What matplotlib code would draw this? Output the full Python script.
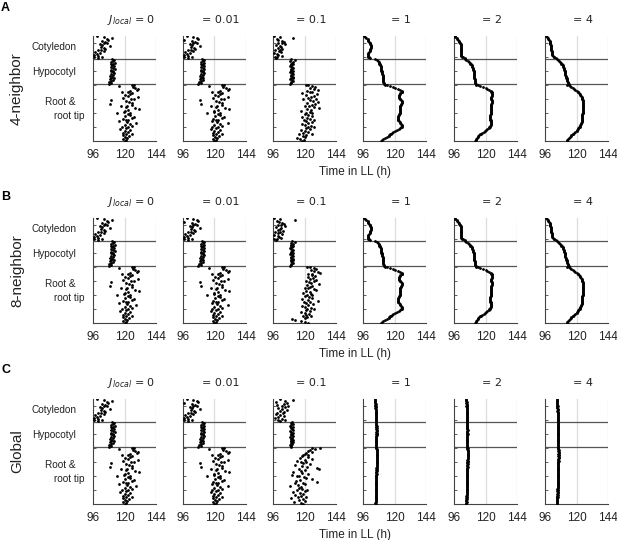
import numpy as np
import matplotlib
matplotlib.use("Agg")
import matplotlib.pyplot as plt

# peak time (h in LL) per cell, listed from top (cotyledon) to bottom (root tip)
# J_local = 0 and 0.01 look the same in all three rows
j0_cot = [99, 104, 110.5, 106.5, 107.5, 102.5, 105, 107, 104, 101.5, 103, 109, 102,
          104.5, 105.5, 100, 102, 104, 97.5, 101.5, 99, 96.5, 100, 102.5, 97, 99.5]
j0_hyp = [110.5, 112, 111, 109.5, 112.5, 110, 111.5, 110.5, 112, 109.5, 111, 112.5, 110,
          111.5, 109.5, 111, 112, 110, 111.5, 109, 110.5, 112, 110, 109, 111, 109.5, 108.5, 110, 108]
j0_root = [127, 125.5, 116, 126.5, 128, 130.5, 129.5, 124, 118, 122.5,
           126, 124.5, 120.5, 123, 130, 119, 125, 127.5, 110, 121,
           123.5, 126, 109, 125.5, 122, 117, 121.5, 128, 131, 123,
           120, 119.5, 124.5, 114, 122.5, 124, 120.5, 127, 125.5, 118.5,
           123, 121, 116, 122, 129, 124, 120, 125.5, 118, 123,
           121.5, 116.5, 124.5, 120, 122.5, 119, 126, 121, 118.5, 123.5,
           120.5, 122, 119, 121, 120]

j001_cot = [99, 104, 106.5, 107.5, 96.5, 102.5, 105, 107, 104, 101.5, 103, 109, 102,
            104.5, 105.5, 100, 102, 104, 97.5, 101.5, 99, 96.5, 100, 102.5, 97, 99.5]
j001_hyp = [110.5, 112, 111, 109.5, 112, 110, 111.5, 110.5, 112, 109.5, 111, 112, 110,
            111.5, 109.5, 111, 112, 110, 111.5, 109, 110.5, 111.5, 110, 109, 111, 109.5, 108.5, 110, 107.5]
j001_root = [127, 126, 116, 126.5, 129, 131, 130, 124, 118, 122.5,
             126, 124.5, 120.5, 123, 130, 119, 125, 127.5, 109, 121,
             123.5, 126, 109.5, 125.5, 122, 117, 121.5, 128, 131, 123,
             120, 119.5, 124.5, 114, 122.5, 124, 120.5, 127, 125.5, 118.5,
             123, 121, 118, 122, 130.5, 124, 120, 125.5, 118, 123,
             121.5, 117, 124.5, 120, 122.5, 119, 126, 121, 118.5, 123.5,
             120.5, 122, 119, 121, 119.5]

# J_local = 0.1, one per row
a_j01_cot = [97, 101.5, 111.5, 99, 100, 102.5, 104, 103, 100, 105, 98, 101.5, 102,
             99.5, 103, 101.5, 97.5, 100.5, 102, 96.5, 99, 100, 102.5, 97.5, 99, 98]
a_j01_hyp = [110, 112.5, 109, 111, 110.5, 109.5, 111.5, 110, 109, 110.5, 111.5, 110, 109.5,
             111, 110, 109, 110.5, 111.5, 110, 109.5, 111, 110, 111.5, 109, 110.5, 111, 109.5, 110, 109]
a_j01_root = [121, 123, 125.5, 128, 124, 127, 130.5, 122, 124.5, 126,
              118, 129.5, 121, 127, 125, 123, 128.5, 119, 124.5, 126.5,
              130.5, 122, 128, 125.5, 120.5, 123.5, 127.5, 131, 122, 125,
              117, 124.5, 121, 126, 120.5, 123, 125.5, 118, 122, 124,
              127, 119.5, 121.5, 126, 123, 118, 120, 125, 122.5, 127.5,
              121, 124, 117.5, 120, 122.5, 119, 125.5, 116, 121, 118.5,
              120.5, 114, 116.5, 119.5, 118]

b_j01_cot = [97, 101, 113, 99, 100.5, 103, 104.5, 102, 100, 105, 98.5, 102, 101,
             99.5, 103.5, 101.5, 97.5, 100, 102.5, 96.5, 99.5, 100.5, 102, 97, 99, 98.5]
b_j01_hyp = [110.5, 113, 109.5, 111, 110, 109.5, 111.5, 110.5, 109, 110, 111, 110.5, 109.5,
             111, 110, 109, 110.5, 111.5, 110, 109.5, 111, 110, 111.5, 109.5, 110.5, 111, 109.5, 110, 109]
b_j01_root = [122, 124, 127, 129, 125, 127.5, 130, 131.5, 123, 126,
              125.5, 128, 122.5, 126.5, 124, 129, 121, 127, 123.5, 125,
              131, 122, 126, 124.5, 120, 123, 127, 128.5, 121.5, 124.5,
              119, 125, 122, 126, 120.5, 123.5, 125.5, 118, 122.5, 130,
              124, 119.5, 121.5, 126.5, 123, 118, 120.5, 125, 122, 127.5,
              121, 124, 117.5, 120, 123.5, 121, 125, 119, 122, 120.5,
              110.5, 113, 117.5, 120.5, 122.5]

c_j01_cot = [101.5, 111.5, 105, 98, 106.5, 104, 99, 107.5, 102.5, 105, 100, 103, 106.5,
             101.5, 104, 99, 103.5, 98.5, 101, 104.5, 100, 97.5, 102.5, 105, 99.5, 101]
c_j01_hyp = [110.5, 109.5, 111, 110, 109, 111.5, 110, 109.5, 110.5, 111, 109, 110, 111.5,
             110.5, 109.5, 110, 111, 109, 110.5, 110, 111.5, 109.5, 110, 111, 109.5, 110.5, 109, 110, 109.5]
c_j01_root = [132, 125.5, 128, 124.5, 123, 126, 121.5, 120.5, 119, 122.5,
              118, 123, 116.5, 125.5, 120, 114, 121.5, 117.5, 119, 124,
              113, 118, 122, 129.5, 131, 115.5, 120.5, 117, 111.5, 118,
              123, 110.5, 116, 114, 119.5, 121, 125.5, 116.5, 113.5, 129.5,
              112.5, 118.5, 120.5, 115, 109, 117, 115.5, 118, 122, 114,
              120.5, 111.5, 116.5, 119, 113, 117.5, 115, 121, 110, 118.5,
              116, 120, 112, 117, 119]

# J_local = 1, 2, 4 for the 4- and 8-neighbor models (nearly identical)
ab_j1_cot = [97, 97.5, 98.5, 99.5, 100, 100, 100.5, 101, 101.5, 101.5, 102, 102, 102,
             102, 101.5, 101.5, 101.5, 101, 100.5, 100, 100, 100, 100, 100, 100.5, 101]
ab_j1_hyp = [105.5, 106.5, 107.5, 108, 108.5, 108.5, 109, 109, 109.5, 109.5, 110, 110, 110,
             110, 110.5, 110.5, 110.5, 110.5, 111, 111, 111, 111, 111, 111.5, 111.5, 111.5, 111.5, 112, 112]
ab_j1_root = [113, 114.5, 116.5, 118.5, 120.5, 122.5, 124, 125.5,
              126, 125.5, 124.5, 124, 123.5, 123.5,
              123.5, 123.5, 124, 124.5, 125, 125.5, 125.5, 125.5, 125,
              125, 124.5, 124.5, 124.5, 124.5, 124, 124, 124, 124.5, 124.5, 124,
              123.5, 123.5, 123, 123, 122.5, 122.5, 123, 123, 123.5, 124, 124.5, 125,
              125.5, 125.5, 125.5, 125, 124.5, 123.5, 122, 120.5,
              119, 118, 117, 116.5, 116, 115.5, 114.5, 113, 111.5, 110.5, 110]

ab_j2_cot = [96.5, 97, 98, 98.5, 99, 99.5, 100, 100.5, 100.5, 101, 101, 101, 101,
             101, 101, 101, 101, 101, 101, 101, 101, 101, 101.5, 102, 103, 104]
ab_j2_hyp = [104.5, 105.5, 106.5, 107.5, 108, 108.5, 109, 109.5, 110, 110, 110.5, 110.5, 110.5,
             111, 111, 111, 111, 111, 111, 111.5, 111.5, 111.5, 111.5, 112, 112, 112, 112, 112, 112.5]
ab_j2_root = [112.5, 114, 116, 118, 120, 121.5, 123, 124, 124.5,
              125, 125, 125, 125, 125, 124.5, 124.5, 124.5, 124.5, 125, 125, 125,
              125, 124.5, 124.5, 124.5, 124.5, 124.5, 124, 124, 124, 124, 124, 124, 124, 124, 123.5,
              123.5, 123.5, 123.5, 123.5, 123.5, 124, 124, 124, 124, 124, 124, 123.5, 123.5, 123, 122.5, 121.5,
              120.5, 119.5, 118.5, 117.5, 116.5, 115.5, 115, 114.5, 114, 113.5, 113, 112.5, 112]

ab_j4_cot = [97, 97.5, 98, 98.5, 99, 99.5, 99.5, 100, 100, 100, 100.5, 100.5, 100.5,
             100.5, 100.5, 100.5, 100.5, 101, 101, 101, 101, 101.5, 102, 102.5, 103, 104]
ab_j4_hyp = [105, 106, 107, 107.5, 108, 108.5, 109, 109.5, 110, 110, 110.5, 110.5, 110.5,
             111, 111, 111, 111.5, 111.5, 111.5, 112, 112, 112, 112.5, 112.5, 113, 113, 113.5, 113.5, 114]
ab_j4_root = [113, 114, 115, 116, 117, 118, 119, 120, 121, 121.5, 122, 122.5, 123,
              123.5, 124, 124, 124.5, 124.5, 125, 125, 125, 125, 125, 125, 125, 125, 125, 125, 125, 125, 125,
              125, 125, 125, 124.5, 124.5, 124.5, 124.5, 124.5, 124.5, 124, 124, 124, 124, 123.5,
              123.5, 123, 123, 122.5, 122, 121.5, 121, 120.5, 120, 119,
              118, 117.5, 117, 116, 115.5, 115, 114, 113.5, 113, 112.5]

# J_local = 1, 2, 4 for the global model: all cells synchronised
c_j1_cot = [105.2, 105.4, 105.3, 105.5, 105.4, 105.6, 105.5, 105.4, 105.6, 105.7, 105.5, 105.6, 105.8,
            105.7, 105.6, 105.8, 105.9, 105.7, 105.8, 106.0, 105.9, 105.8, 106.0, 106.1, 105.9, 106.0]
c_j1_hyp = [106.1, 106.0, 106.2, 106.1, 106.3, 106.2, 106.1, 106.3, 106.2, 106.4, 106.3, 106.2, 106.3,
            106.4, 106.2, 106.3, 106.1, 106.2, 106.0, 106.1, 106.2, 106.0, 106.1, 105.9, 106.0, 106.1,
            105.9, 106.0, 106.1]
c_j1_root = [106.0, 106.2, 106.3, 106.4, 106.3, 106.5, 106.4, 106.6, 106.5, 106.4,
             106.6, 106.5, 106.7, 106.6, 106.5, 106.4, 106.6, 106.5, 106.3, 106.4,
             106.5, 106.3, 106.4, 106.2, 106.3, 106.4, 106.2, 106.3, 106.1, 106.2,
             106.3, 106.1, 106.2, 106.0, 106.1, 106.2, 106.0, 106.1, 106.2, 106.0,
             105.9, 106.1, 106.0, 105.9, 106.0, 106.1, 105.9, 106.0, 105.8, 105.9,
             106.0, 105.8, 105.9, 105.7, 105.8, 105.9, 105.7, 105.8, 105.6, 105.7,
             105.8, 105.6, 105.7, 105.5, 105.6]

c_j2_cot = [105.4, 105.5, 105.4, 105.6, 105.5, 105.7, 105.6, 105.5, 105.7, 105.8, 105.6, 105.7, 105.9,
            105.8, 105.7, 105.9, 106.0, 105.8, 105.9, 106.0, 105.9, 105.8, 106.0, 106.1, 105.9, 106.0]
c_j2_hyp = [106.0, 105.9, 106.1, 106.0, 106.2, 106.1, 106.0, 106.2, 106.1, 106.3, 106.2, 106.1, 106.2,
            106.3, 106.1, 106.2, 106.0, 106.1, 105.9, 106.0, 106.1, 105.9, 106.0, 105.8, 105.9, 106.0,
            105.8, 105.9, 106.0]
c_j2_root = [106.1, 106.3, 106.2, 106.4, 106.3, 106.5, 106.4, 106.3, 106.5, 106.4,
             106.3, 106.5, 106.4, 106.3, 106.2, 106.4, 106.3, 106.2, 106.1, 106.3,
             106.2, 106.1, 106.3, 106.2, 106.0, 106.1, 106.2, 106.0, 106.1, 105.9,
             106.0, 106.1, 105.9, 106.0, 105.8, 105.9, 106.0, 105.8, 105.9, 106.0,
             105.8, 105.9, 105.7, 105.8, 105.9, 105.7, 105.8, 105.6, 105.7, 105.8,
             105.6, 105.7, 105.8, 105.6, 105.7, 105.5, 105.6, 105.7, 105.5, 105.6,
             105.4, 105.5, 105.6, 105.4, 105.5]

c_j4_cot = [105.3, 105.2, 105.4, 105.3, 105.5, 105.4, 105.3, 105.5, 105.6, 105.4, 105.5, 105.6, 105.7,
            105.5, 105.6, 105.7, 105.6, 105.8, 105.7, 105.6, 105.8, 105.7, 105.9, 105.8, 105.7, 105.9]
c_j4_hyp = [105.8, 105.7, 105.9, 105.8, 106.0, 105.9, 105.8, 106.0, 105.9, 106.1, 106.0, 105.9, 106.0,
            106.1, 105.9, 106.0, 105.8, 105.9, 106.0, 105.8, 105.9, 105.7, 105.8, 105.9, 105.7, 105.8,
            105.9, 105.7, 105.8]
c_j4_root = [106.0, 106.2, 106.1, 106.3, 106.2, 106.4, 106.3, 106.2, 106.4, 106.3,
             106.2, 106.4, 106.3, 106.2, 106.1, 106.3, 106.2, 106.1, 106.0, 106.2,
             106.1, 106.0, 106.2, 106.1, 105.9, 106.0, 106.1, 105.9, 106.0, 105.8,
             105.9, 106.0, 105.8, 105.9, 105.7, 105.8, 105.9, 105.7, 105.8, 105.9,
             105.7, 105.8, 105.6, 105.7, 105.8, 105.6, 105.7, 105.5, 105.6, 105.7,
             105.5, 105.6, 105.7, 105.5, 105.6, 105.4, 105.5, 105.6, 105.4, 105.5,
             105.3, 105.4, 105.5, 105.3, 105.4]

row_names = ["4-neighbor", "8-neighbor", "Global"]
row_letters = ["A", "B", "C"]
coupling_labels = [r"$J_{local}$ = 0", "= 0.01", "= 0.1", "= 1", "= 2", "= 4"]
x_ticks = [96, 120, 144]

panels = [
    [(j0_cot, j0_hyp, j0_root), (j001_cot, j001_hyp, j001_root), (a_j01_cot, a_j01_hyp, a_j01_root),
     (ab_j1_cot, ab_j1_hyp, ab_j1_root), (ab_j2_cot, ab_j2_hyp, ab_j2_root), (ab_j4_cot, ab_j4_hyp, ab_j4_root)],
    [(j0_cot, j0_hyp, j0_root), (j001_cot, j001_hyp, j001_root), (b_j01_cot, b_j01_hyp, b_j01_root),
     (ab_j1_cot, ab_j1_hyp, ab_j1_root), (ab_j2_cot, ab_j2_hyp, ab_j2_root), (ab_j4_cot, ab_j4_hyp, ab_j4_root)],
    [(j0_cot, j0_hyp, j0_root), (j001_cot, j001_hyp, j001_root), (c_j01_cot, c_j01_hyp, c_j01_root),
     (c_j1_cot, c_j1_hyp, c_j1_root), (c_j2_cot, c_j2_hyp, c_j2_root), (c_j4_cot, c_j4_hyp, c_j4_root)],
]

# region sizes in cells (top to bottom)
n_cot, n_hyp, n_root = 26, 29, 65
bounds = [0, n_cot, n_cot + n_hyp, n_cot + n_hyp + n_root]

W, H = 617, 540
fig = plt.figure(figsize=(W / 100, H / 100), dpi=100)
lefts = [93, 183, 273, 363, 454, 545]
tops = [36, 218, 399]
aw, ah = 63, 105
letter_y = [8, 197, 370]
dark = "#444444"
text_col = "#222222"


def cell_y(values, lo, hi):
    # spread the cells of one region evenly between its boundaries
    n = len(values)
    return lo + (np.arange(n) + 0.5) * (hi - lo) / n


for r in range(3):
    for c in range(6):
        ax = fig.add_axes([lefts[c] / W, 1 - (tops[r] + ah) / H, aw / W, ah / H])
        for k, vals in enumerate(panels[r][c]):
            ys = cell_y(vals, bounds[k], bounds[k + 1])
            ax.scatter(vals, ys, s=4, c="k", linewidths=0, zorder=3)
        ax.set_xlim(96, 144)
        ax.set_ylim(bounds[-1], 0)
        ax.axvline(120, color="#dddddd", lw=0.9, zorder=0)
        ax.axvline(144, color="#dddddd", lw=0.9, zorder=0)
        for b in bounds[1:3]:
            ax.axhline(b, color="#555555", lw=0.9, zorder=2)
        ax.set_xticks(x_ticks)
        ax.set_xticklabels([str(t) for t in x_ticks], family="Liberation Sans", fontsize=8.5)
        ax.set_yticks(np.arange(bounds[-1], 0, -16))
        ax.set_yticklabels([])
        ax.tick_params(axis="x", direction="in", length=0, pad=6, colors=text_col)
        ax.tick_params(axis="y", direction="in", length=2, width=0.6, color=dark)
        for s in ["top", "right"]:
            ax.spines[s].set_visible(False)
        for s in ["left", "bottom"]:
            ax.spines[s].set_color(dark)
            ax.spines[s].set_linewidth(0.8)
        ax.text(0.5 + 6.5 / aw, 1 + 16 / ah, coupling_labels[c], transform=ax.transAxes,
                ha="center", va="center", fontsize=8, family="DejaVu Sans", color=text_col)
        if c == 0:
            tr = ax.get_yaxis_transform()
            ax.text(-17 / aw, 13, "Cotyledon", transform=tr, ha="right", va="center",
                    fontsize=7.2, family="Liberation Sans", color=text_col)
            ax.text(-17 / aw, 41, "Hypocotyl", transform=tr, ha="right", va="center",
                    fontsize=7.2, family="Liberation Sans", color=text_col)
            ax.text(-18 / aw, 75, "Root &", transform=tr, ha="right", va="center",
                    fontsize=7.2, family="Liberation Sans", color=text_col)
            ax.text(-9 / aw, 91, "root tip", transform=tr, ha="right", va="center",
                    fontsize=7.2, family="Liberation Sans", color=text_col)

    fig.text(17 / W, 1 - (tops[r] + ah / 2) / H, row_names[r], rotation=90, ha="center",
             va="center", fontsize=11, family="Liberation Sans", color=text_col)
    fig.text(355 / W, 1 - (tops[r] + ah + 31) / H, "Time in LL (h)", ha="center", va="center",
             fontsize=8.5, family="Liberation Sans", color=text_col)
    fig.text(5.5 / W, 1 - letter_y[r] / H, row_letters[r], ha="center", va="center",
             fontsize=9, fontweight="bold", family="Liberation Sans")

fig.savefig("out.png", dpi=100)
